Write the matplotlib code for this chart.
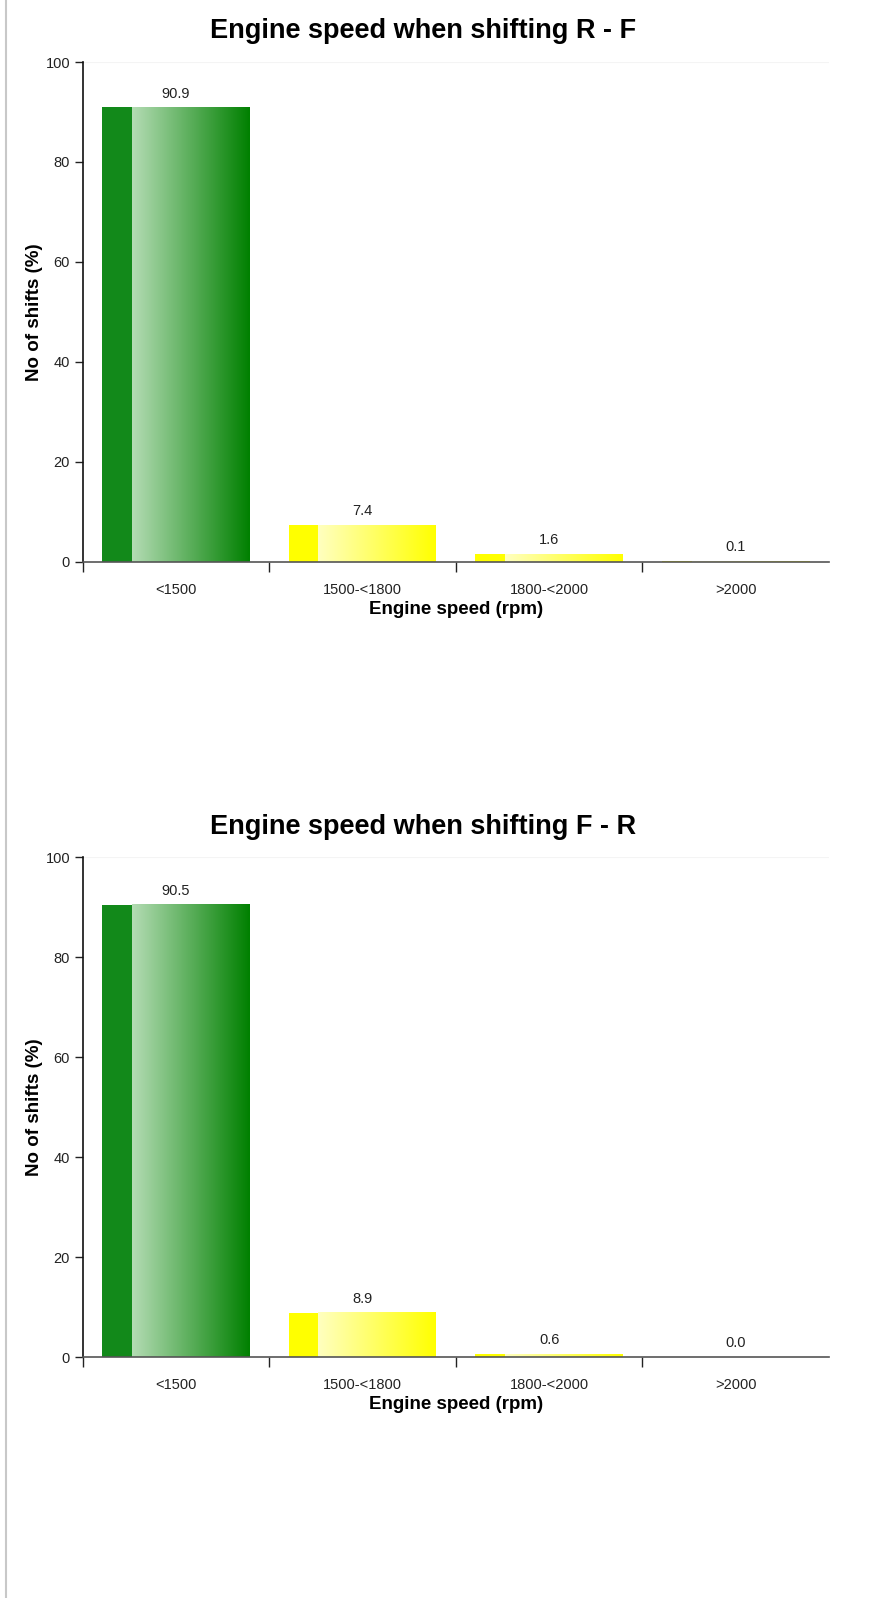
import numpy as np
import matplotlib
matplotlib.use("Agg")
import matplotlib.pyplot as plt
from matplotlib.colors import LinearSegmentedColormap
from matplotlib.lines import Line2D

plt.rcParams['font.family'] = ['Liberation Sans', 'DejaVu Sans']

categories = ["<1500", "1500-<1800", "1800-<2000", ">2000"]
titles = ["Engine speed when shifting R - F", "Engine speed when shifting F - R"]
values_rf = [90.9, 7.4, 1.6, 0.1]
values_fr = [90.5, 8.9, 0.6, 0.0]
# strip colour, gradient start, gradient end for each category
bar_colors = [("#12891a", "#b4dcb4", "#008000"),
              ("#ffff00", "#ffffc0", "#ffff00"),
              ("#ffff00", "#ffffc0", "#ffff00"),
              ("#ffff00", "#ffffc0", "#ffff00")]

fig = plt.figure(figsize=(8.9, 15.98), dpi=100)
fig.add_artist(Line2D([0.0067, 0.0067], [0, 1], color="#c8c8c8", lw=1.5))

def draw_panel(ax, title, values):
    x = np.arange(len(categories))
    width = 0.79
    bars = ax.bar(x, values, width=width, color="none", edgecolor="none")
    grad = np.linspace(0, 1, 256).reshape(1, -1)
    for bar, (strip, c0, c1), v in zip(bars, bar_colors, values):
        x0 = bar.get_x()
        w = bar.get_width()
        h = bar.get_height()
        ax.bar(x0, h, width=w * 0.2, align="edge", color=strip, zorder=2)
        cmap = LinearSegmentedColormap.from_list("g", [c0, c1])
        ax.imshow(grad, cmap=cmap, aspect="auto", zorder=2,
                  extent=[x0 + w * 0.2, x0 + w, 0, h], interpolation="bilinear")
        ax.annotate(f"{v:.1f}", (bar.get_x() + w / 2, h), xytext=(0, 5),
                    textcoords="offset points", ha="center", va="bottom",
                    fontsize=10.5, color="#222222")
    ax.set_xlim(-0.5, len(categories) - 0.5)
    ax.set_ylim(0, 100)
    ax.axhline(100, color="#f4f4f4", lw=0.8, zorder=0)
    ax.set_yticks([0, 20, 40, 60, 80, 100])
    ax.set_xticks(x)
    ax.set_xticklabels(categories)
    ax.set_xticks(np.arange(len(categories)) - 0.5, minor=True)
    ax.tick_params(axis="x", which="major", length=0, pad=15, labelsize=10.5, colors="#222222")
    ax.tick_params(axis="x", which="minor", length=7, width=1, color="#222222")
    ax.tick_params(axis="y", length=6, width=1, labelsize=10.5, colors="#222222", pad=3)
    for s in ["top", "right"]:
        ax.spines[s].set_visible(False)
    ax.spines["left"].set_color("#111111")
    ax.spines["left"].set_linewidth(1.2)
    ax.spines["bottom"].set_color("#555555")
    ax.spines["bottom"].set_linewidth(1.2)
    ax.set_title(title, fontsize=19.5, fontweight="bold", pad=17, x=0.456)
    ax.set_xlabel("Engine speed (rpm)", fontsize=13.5, fontweight="bold", labelpad=3)
    ax.set_ylabel("No of shifts (%)", fontsize=13.5, fontweight="bold", labelpad=2)

ax1 = fig.add_axes([0.0928, 0.6485, 0.8387, 0.3127])
ax2 = fig.add_axes([0.0928, 0.1508, 0.8387, 0.3127])
draw_panel(ax1, titles[0], values_rf)
draw_panel(ax2, titles[1], values_fr)

fig.savefig("out.png", dpi=100, facecolor="white")
